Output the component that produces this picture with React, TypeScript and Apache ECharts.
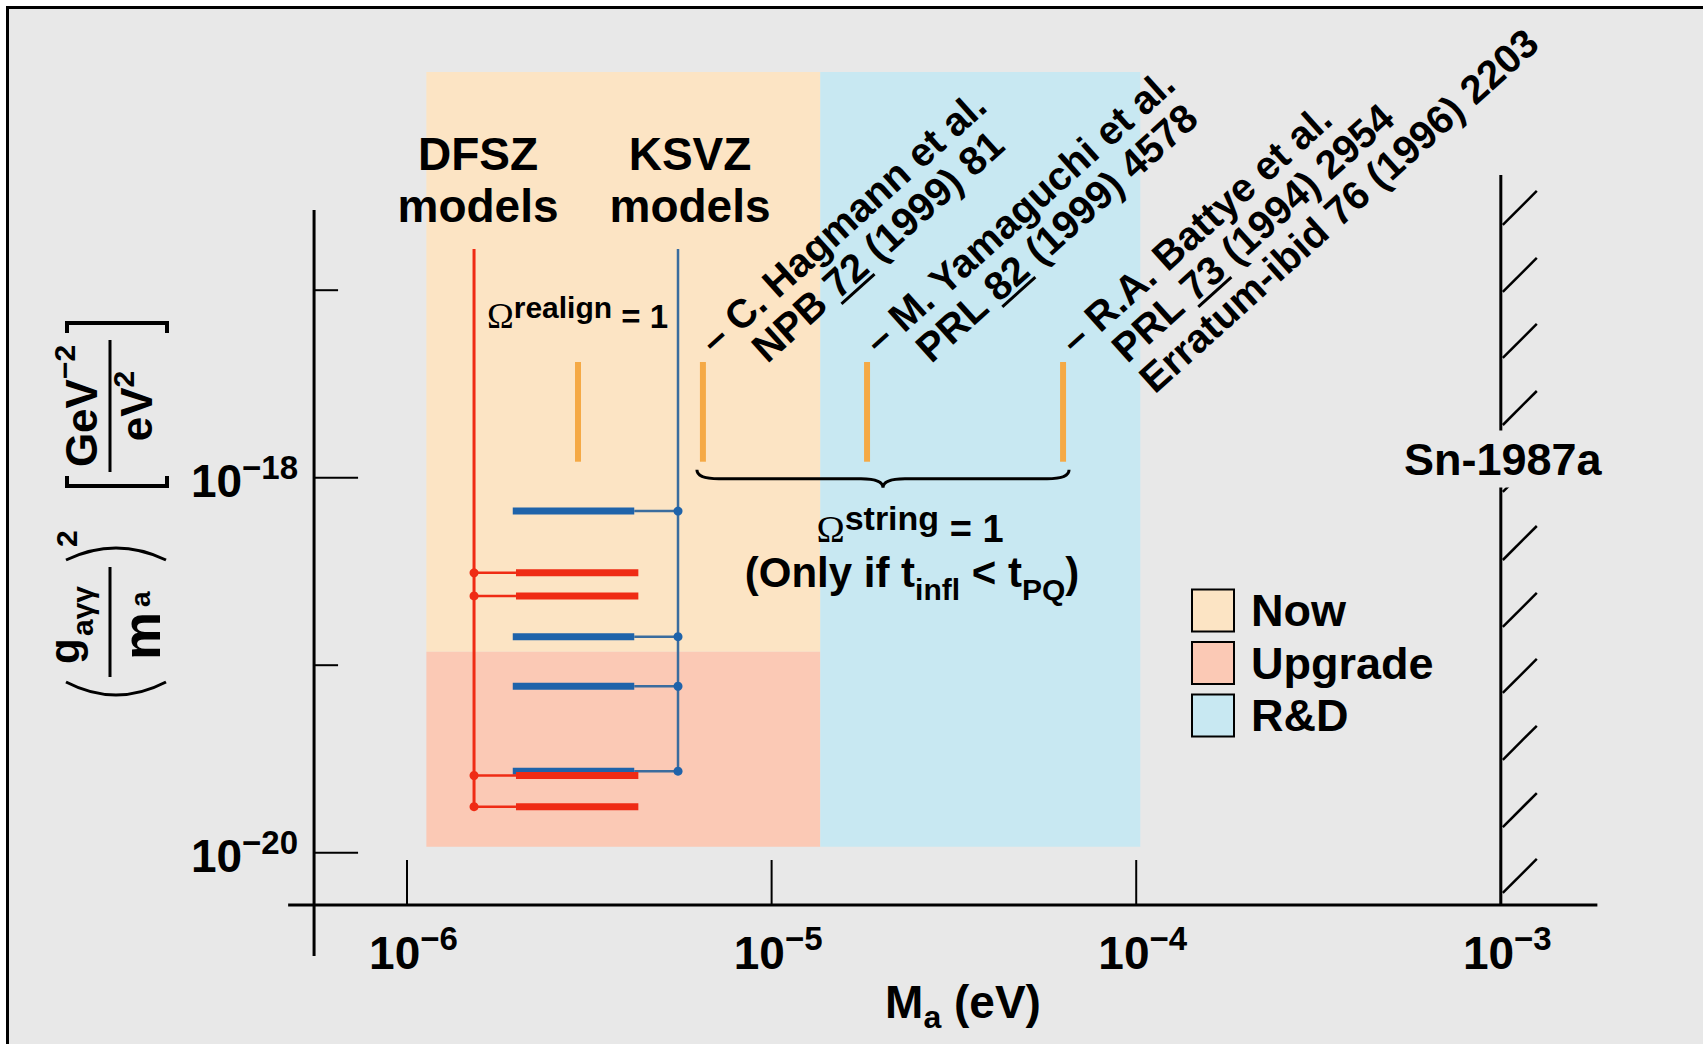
import React, { useEffect, useRef } from 'react';
import * as echarts from 'echarts';

const SANS = "'Liberation Sans', Arial, Helvetica, sans-serif";
const SERIF = "'Liberation Serif', 'DejaVu Serif', serif";
const BG = '#E8E8E8';
const RED = '#EF2B14';
const BLUE = '#1F63AA';
const BLUE_TRUNK = '#3A6C9E';
const ORANGE = '#F5A945';
const ANGLE = (42 * Math.PI) / 180;

// ---- axis extents (log scale) ----
const X_MIN = Math.pow(10, -6.35);
const X_MAX = Math.pow(10, -2.7);
const Y_MIN = Math.pow(10, -20.6);
const Y_MAX = Math.pow(10, -15.7);

// ---- ticks ----
const xTickValues = [1e-6, 1e-5, 1e-4, 1e-3];
const xTickExponents = ['−6', '−5', '−4', '−3'];
const yMajorTickValues = [1e-18, 1e-20];
const yMajorTickExponents = ['−18', '−20'];
const yMinorTickValues = [1e-17, 1e-19];

// ---- drawn axis lines ----
const xAxisAtY = 5.26e-21;
const xAxisSpan = [4.72e-7, 1.84e-3];
const yAxisAtX = 5.56e-7;
const yAxisSpan = [2.81e-21, 2.68e-17];

// ---- regions ----
const regionNames = ['Now', 'Upgrade', 'R&D'];
const regionColors = ['#FCE4C4', '#FBC9B5', '#C8E8F2'];
const regionMassRanges = [
  [1.13e-6, 1.36e-5],
  [1.13e-6, 1.36e-5],
  [1.36e-5, 1.026e-4],
];
const regionCouplingRanges = [
  [1.18e-19, 1.46e-16],
  [1.076e-20, 1.18e-19],
  [1.076e-20, 1.46e-16],
];

// ---- models ----
const dfszTrunkX = 1.527e-6;
const dfszTrunkY = [1.76e-20, 1.66e-17];
const dfszModelY = [3.11e-19, 2.34e-19, 2.58e-20, 1.76e-20];
const dfszBarX = [1.99e-6, 4.31e-6];
const ksvzTrunkX = 5.537e-6;
const ksvzTrunkY = [2.72e-20, 1.66e-17];
const ksvzModelY = [6.64e-19, 1.42e-19, 7.72e-20, 2.72e-20];
const ksvzBarX = [1.95e-6, 4.2e-6];

// ---- cosmological predictions ----
const stringMassX = [2.944e-6, 6.48e-6, 1.827e-5, 6.3e-5];
const stringCouplingY = [1.217e-18, 4.14e-18];

// ---- SN 1987a ----
const snMass = 1e-3;
const snTopY = 4.11e-17;
const snHatchY = [2.23e-17, 9.79e-18, 4.35e-18, 1.91e-18, 8.4e-19, 3.64e-19, 1.6e-19, 7.11e-20, 3.13e-20, 1.37e-20, 6.1e-21];
const snLabelY = 1.258e-18;

// ---- citations ----
const citationLines: any[] = [
  [[{ t: '– C. Hagmann et al.' }], [{ t: 'NPB ' }, { t: '72', u: true }, { t: ' (1999) 81' }]],
  [[{ t: '– M. Yamaguchi et al.' }], [{ t: 'PRL ' }, { t: '82', u: true }, { t: ' (1999) 4578' }]],
  [
    [{ t: '– R.A. Battye et al.' }],
    [{ t: 'PRL ' }, { t: '73', u: true }, { t: ' (1994) 2954' }],
    [{ t: 'Erratum-ibid 76 (1996) 2203' }],
  ],
];

// ---------- text helpers ----------
const measureCtx: any = document.createElement('canvas').getContext('2d');
function textWidth(r: any, defSize: number) {
  const size = r.size ?? defSize;
  measureCtx.font = `${r.weight ?? 'bold'} ${size}px ${r.family ?? SANS}`;
  return measureCtx.measureText(r.t).width;
}
function runEls(runs: any[], x: number, baseline: number, align: string, defSize: number) {
  const ws = runs.map((r) => textWidth(r, defSize));
  const total = ws.reduce((a, b) => a + b, 0);
  let cx = align === 'left' ? x : align === 'center' ? x - total / 2 : x - total;
  const out: any[] = [];
  runs.forEach((r, i) => {
    const size = r.size ?? defSize;
    const by = baseline + (r.dy ?? 0);
    const central = r.family === SERIF ? 0.3375 : 0.3465;
    out.push({
      type: 'text',
      x: cx,
      y: by - central * size,
      silent: true,
      style: {
        text: r.t,
        fontSize: size,
        fontWeight: r.weight ?? 'bold',
        fontFamily: r.family ?? SANS,
        fill: '#000',
        align: 'left',
        verticalAlign: 'middle',
      },
    });
    if (r.u) {
      out.push({ type: 'line', shape: { x1: cx, y1: by + 5, x2: cx + ws[i], y2: by + 5 }, style: { stroke: '#000', lineWidth: 3 } });
    }
    cx += ws[i];
  });
  return out;
}
function lineEl(x1: number, y1: number, x2: number, y2: number, stroke: string, lw: number) {
  return { type: 'line', shape: { x1, y1, x2, y2 }, style: { stroke, lineWidth: lw } };
}

const base: any = { type: 'custom', silent: true, clip: false, z: 2 };

function segSeries(data: number[][], stroke: string, lw: number, z = 2) {
  return {
    ...base,
    z,
    data,
    encode: { x: [0, 2], y: [1, 3] },
    renderItem: (_p: any, api: any) => {
      const a = api.coord([api.value(0), api.value(1)]);
      const b = api.coord([api.value(2), api.value(3)]);
      return lineEl(a[0], a[1], b[0], b[1], stroke, lw);
    },
  };
}

function buildOption() {
  const hang = textWidth({ t: '– ' }, 40);

  const regionSeries = regionNames.map((name, i) => ({
    ...base,
    name,
    z: 1,
    itemStyle: { color: regionColors[i] },
    data: [[regionMassRanges[i][0], regionMassRanges[i][1], regionCouplingRanges[i][0], regionCouplingRanges[i][1]]],
    encode: { x: [0, 1], y: [2, 3] },
    renderItem: (_p: any, api: any) => {
      const p0 = api.coord([api.value(0), api.value(3)]);
      const p1 = api.coord([api.value(1), api.value(2)]);
      return {
        type: 'rect',
        shape: { x: p0[0], y: p0[1], width: p1[0] - p0[0], height: p1[1] - p0[1] },
        style: { fill: regionColors[i] },
      };
    },
  }));

  const series: any[] = [
    ...regionSeries,
    // axis lines
    segSeries(
      [
        [xAxisSpan[0], xAxisAtY, xAxisSpan[1], xAxisAtY],
        [yAxisAtX, yAxisSpan[0], yAxisAtX, yAxisSpan[1]],
      ],
      '#000',
      3
    ),
    // x ticks + labels
    {
      ...base,
      data: xTickValues.map((v) => [v, xAxisAtY]),
      renderItem: (p: any, api: any) => {
        const a = api.coord([api.value(0), api.value(1)]);
        return {
          type: 'group',
          children: [
            lineEl(a[0], a[1], a[0], a[1] - 45, '#000', 2),
            ...runEls([{ t: '10' }, { t: xTickExponents[p.dataIndex], size: 33, dy: -19 }], a[0] + 6.5, a[1] + 64, 'center', 46),
          ],
        };
      },
    },
    // y major ticks + labels
    {
      ...base,
      data: yMajorTickValues.map((v) => [yAxisAtX, v]),
      renderItem: (p: any, api: any) => {
        const a = api.coord([api.value(0), api.value(1)]);
        return {
          type: 'group',
          children: [
            lineEl(a[0], a[1], a[0] + 44, a[1], '#000', 2),
            ...runEls([{ t: '10' }, { t: yMajorTickExponents[p.dataIndex], size: 33, dy: -18 }], a[0] - 16, a[1] + 19.5, 'right', 46),
          ],
        };
      },
    },
    // y minor ticks
    {
      ...base,
      data: yMinorTickValues.map((v) => [yAxisAtX, v]),
      renderItem: (_p: any, api: any) => {
        const a = api.coord([api.value(0), api.value(1)]);
        return lineEl(a[0], a[1], a[0] + 24, a[1], '#000', 2);
      },
    },
    // trunks
    segSeries([[ksvzTrunkX, ksvzTrunkY[0], ksvzTrunkX, ksvzTrunkY[1]]], BLUE_TRUNK, 2.5),
    segSeries([[dfszTrunkX, dfszTrunkY[0], dfszTrunkX, dfszTrunkY[1]]], RED, 3),
    // KSVZ models
    {
      ...base,
      data: ksvzModelY.map((y) => [ksvzTrunkX, y]),
      renderItem: (_p: any, api: any) => {
        const t = api.coord([api.value(0), api.value(1)]);
        const b0 = api.coord([ksvzBarX[0], api.value(1)]);
        const b1 = api.coord([ksvzBarX[1], api.value(1)]);
        return {
          type: 'group',
          children: [
            lineEl(b1[0], t[1], t[0], t[1], BLUE_TRUNK, 2.5),
            { type: 'rect', shape: { x: b0[0], y: t[1] - 3.5, width: b1[0] - b0[0], height: 7 }, style: { fill: BLUE } },
            { type: 'circle', shape: { cx: t[0], cy: t[1], r: 4.5 }, style: { fill: BLUE } },
          ],
        };
      },
    },
    // DFSZ models
    {
      ...base,
      data: dfszModelY.map((y) => [dfszTrunkX, y]),
      renderItem: (_p: any, api: any) => {
        const t = api.coord([api.value(0), api.value(1)]);
        const b0 = api.coord([dfszBarX[0], api.value(1)]);
        const b1 = api.coord([dfszBarX[1], api.value(1)]);
        return {
          type: 'group',
          children: [
            lineEl(t[0], t[1], b0[0], t[1], RED, 2.5),
            { type: 'rect', shape: { x: b0[0], y: t[1] - 3.5, width: b1[0] - b0[0], height: 7 }, style: { fill: RED } },
            { type: 'circle', shape: { cx: t[0], cy: t[1], r: 4.5 }, style: { fill: RED } },
          ],
        };
      },
    },
    // orange prediction bars
    segSeries(stringMassX.map((x) => [x, stringCouplingY[0], x, stringCouplingY[1]]), ORANGE, 6),
    // brace + Omega string text
    {
      ...base,
      data: [[stringMassX[1], stringMassX[3], stringCouplingY[0]]],
      encode: { x: [0, 1], y: 2 },
      renderItem: (_p: any, api: any) => {
        const a = api.coord([api.value(0), api.value(2)]);
        const b = api.coord([api.value(1), api.value(2)]);
        const L = a[0] - 6, R = b[0] + 6, T = a[1] + 8, C = (L + R) / 2, M = T + 9, P = T + 18;
        const d = `M${L},${T} Q${L},${M} ${L + 22},${M} L${C - 22},${M} Q${C},${M} ${C},${P} Q${C},${M} ${C + 22},${M} L${R - 22},${M} Q${R},${M} ${R},${T}`;
        return {
          type: 'group',
          children: [
            { type: 'path', shape: { pathData: d }, style: { stroke: '#000', lineWidth: 3, fill: 'none' } },
            ...runEls(
              [
                { t: 'Ω', family: SERIF, weight: 'normal', size: 38 },
                { t: 'string', size: 34, dy: -12 },
                { t: ' = 1', size: 38 },
              ],
              C + 27,
              a[1] + 80,
              'center',
              38
            ),
            ...runEls(
              [{ t: '(Only if t' }, { t: 'infl', size: 30, dy: 13 }, { t: ' < t' }, { t: 'PQ', size: 30, dy: 13 }, { t: ')' }],
              C + 29,
              a[1] + 125,
              'center',
              42
            ),
          ],
        };
      },
    },
    // SN 1987a line
    segSeries([[snMass, xAxisAtY, snMass, snTopY]], '#000', 3),
    {
      ...base,
      data: snHatchY.map((y) => [snMass, y]),
      renderItem: (_p: any, api: any) => {
        const a = api.coord([api.value(0), api.value(1)]);
        return lineEl(a[0] + 2, a[1], a[0] + 36, a[1] - 34, '#000', 2.5);
      },
    },
    {
      ...base,
      z: 5,
      data: [[snMass, snLabelY]],
      renderItem: (_p: any, api: any) => {
        const a = api.coord([api.value(0), api.value(1)]);
        const w = textWidth({ t: 'Sn-1987a' }, 45);
        return {
          type: 'group',
          children: [
            { type: 'rect', shape: { x: a[0] + 2 - w / 2 - 4, y: a[1] - 28.5, width: w + 8, height: 57 }, style: { fill: BG } },
            ...runEls([{ t: 'Sn-1987a' }], a[0] + 2, a[1] + 16.5, 'center', 45),
          ],
        };
      },
    },
    // model family labels
    {
      ...base,
      data: [
        [dfszTrunkX, dfszTrunkY[1]],
        [ksvzTrunkX, ksvzTrunkY[1]],
      ],
      renderItem: (p: any, api: any) => {
        const a = api.coord([api.value(0), api.value(1)]);
        const name = p.dataIndex === 0 ? 'DFSZ' : 'KSVZ';
        const dx = p.dataIndex === 0 ? 4 : 12;
        return {
          type: 'group',
          children: [
            ...runEls([{ t: name }], a[0] + dx, a[1] - 79, 'center', 46),
            ...runEls([{ t: 'models' }], a[0] + dx, a[1] - 27, 'center', 46),
          ],
        };
      },
    },
    // Omega realign label
    {
      ...base,
      data: [[stringMassX[0], stringCouplingY[1]]],
      renderItem: (_p: any, api: any) => {
        const a = api.coord([api.value(0), api.value(1)]);
        return {
          type: 'group',
          children: runEls(
            [
              { t: 'Ω', family: SERIF, weight: 'normal', size: 36 },
              { t: 'realign', size: 30, dy: -10 },
              { t: ' = 1', size: 33 },
            ],
            a[0] - 91,
            a[1] - 34,
            'left',
            33
          ),
        };
      },
    },
    // citations
    {
      ...base,
      data: stringMassX.slice(1).map((x) => [x, stringCouplingY[1]]),
      renderItem: (p: any, api: any) => {
        const a = api.coord([api.value(0), api.value(1)]);
        const lines = citationLines[p.dataIndex];
        const children: any[] = [];
        lines.forEach((runs: any[], i: number) => {
          children.push(...runEls(runs, i === 0 ? 0 : hang, i * 41, 'left', 40));
        });
        return { type: 'group', x: a[0] + 12, y: a[1] - 6, rotation: ANGLE, children };
      },
    },
  ];

  const bracket = (pts: number[][]) => ({ type: 'polyline', shape: { points: pts }, style: { stroke: '#000', lineWidth: 4, fill: 'none' } });
  const yLabel = {
    type: 'group',
    x: 110,
    y: 700,
    rotation: Math.PI / 2,
    silent: true,
    children: [
      { type: 'bezierCurve', shape: { x1: 18, y1: -44, x2: 18, y2: 56, cpx1: -8, cpy1: 6 }, style: { stroke: '#000', lineWidth: 3, fill: 'none' } },
      ...runEls([{ t: 'g' }], 36, -31, 'left', 42),
      ...runEls([{ t: 'aγγ' }], 64, -17, 'left', 30),
      lineEl(23, 0, 133, 0, '#000', 3),
      ...runEls([{ t: 'm' }], 40, 50, 'left', 54),
      ...runEls([{ t: 'a' }], 93, 40, 'left', 28),
      { type: 'bezierCurve', shape: { x1: 140, y1: -44, x2: 140, y2: 56, cpx1: 164, cpy1: 6 }, style: { stroke: '#000', lineWidth: 3, fill: 'none' } },
      ...runEls([{ t: '2' }], 153, -33, 'left', 30),
      bracket([[224, -43], [214, -43], [214, 57], [224, 57]]),
      ...runEls([{ t: 'GeV' }, { t: '−2', size: 30, dy: -22 }], 294, -13, 'center', 44),
      lineEl(228, 0, 360, 0, '#000', 3),
      ...runEls([{ t: 'eV' }, { t: '2', size: 30, dy: -18 }], 294, 42, 'center', 44),
      bracket([[367, -43], [377, -43], [377, 57], [367, 57]]),
    ],
  };

  return {
    animation: false,
    backgroundColor: '#ffffff',
    grid: { left: 279.4, top: 46.45, width: 1330.8, height: 918.75 },
    xAxis: { type: 'log', logBase: 10, min: X_MIN, max: X_MAX, show: false },
    yAxis: { type: 'log', logBase: 10, min: Y_MIN, max: Y_MAX, show: false },
    legend: {
      data: regionNames,
      orient: 'vertical',
      left: 1191,
      top: 588,
      padding: 0,
      itemWidth: 42,
      itemHeight: 42,
      itemGap: 7.5,
      icon: 'rect',
      selectedMode: false,
      itemStyle: { borderColor: '#000', borderWidth: 2 },
      textStyle: { fontSize: 45, fontWeight: 'bold', color: '#000', fontFamily: SANS, lineHeight: 42, padding: [0, 0, 0, 12] },
    },
    graphic: [
      { type: 'rect', z: -10, shape: { x: 7.5, y: 7.5, width: 1710, height: 1050 }, style: { fill: BG, stroke: '#000', lineWidth: 3 } },
      yLabel,
      ...runEls([{ t: 'M' }, { t: 'a', size: 32, dy: 10 }, { t: ' (eV)' }], 963, 1018, 'center', 46),
    ],
    series,
  };
}

export default function App() {
  const ref = useRef<HTMLDivElement>(null);
  useEffect(() => {
    const chart = echarts.init(ref.current as HTMLDivElement, null, { renderer: 'svg' });
    chart.setOption(buildOption() as any);
    return () => chart.dispose();
  }, []);
  return <div ref={ref} style={{ position: 'fixed', left: 0, top: 0, width: 1703, height: 1044 }} />;
}
